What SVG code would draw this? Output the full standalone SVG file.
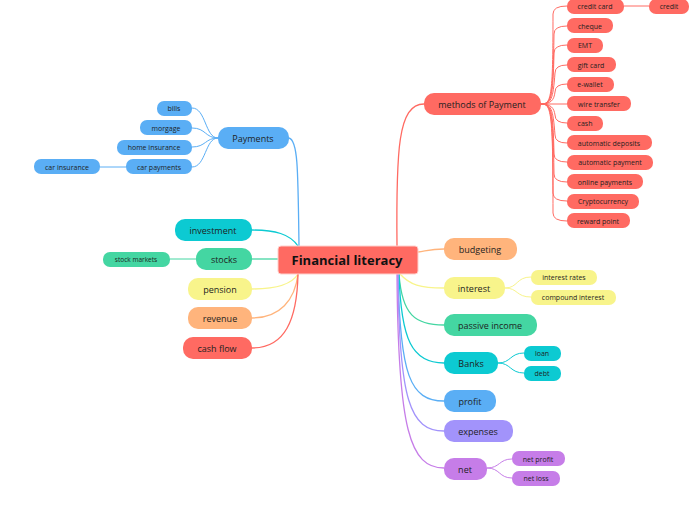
<svg xmlns="http://www.w3.org/2000/svg" width="696" height="520" viewBox="0 0 696 520">
<style>
text{font-family:"Open Sans","Noto Sans","Liberation Sans",sans-serif;fill:#1e1e1e;text-anchor:middle;dominant-baseline:central}
.m{font-size:9px}
.s{font-size:7px}
.c{fill:none;stroke-width:1.3}
.t{fill:none;stroke-width:1}
.red{fill:#ff6a62}.blue{fill:#5aaef5}.cyan{fill:#0ccad2}.green{fill:#44d6a2}.yel{fill:#f8f48b}.org{fill:#ffb47c}.vio{fill:#a293fb}.pur{fill:#c67de8}
.sr{stroke:#ff6a62}.sb{stroke:#5aaef5}.sc{stroke:#0ccad2}.sg{stroke:#44d6a2}.sy{stroke:#f8f48b}.so{stroke:#ffb47c}.sv{stroke:#a293fb}.sp{stroke:#c67de8}
</style>
<rect width="696" height="520" fill="#ffffff"/>
<g id="connectors">
<path class="c sr" d="M397 246 C396 150 398 104 424 104"/>
<path class="c sb" d="M289 138 C298 140 298 170 299 246"/>
<path class="c sc" d="M252 230 C275 230 290 234 298 246"/>
<path class="c sg" d="M252 259 L278 259"/>
<path class="c sy" d="M252 289 C275 289 292 284 298 274"/>
<path class="c so" d="M252 318 C280 318 295 300 298 274"/>
<path class="c sr" d="M252 348 C285 348 297 320 298 274"/>
<path class="c so" d="M418 252 C430 250 432 249 444 249"/>
<path class="c sy" d="M400 274 C410 285 420 288 444 288"/>
<path class="c sg" d="M399 274 C402 315 415 325 444 325"/>
<path class="c sc" d="M399 274 C401 340 412 363 444 363"/>
<path class="c sb" d="M398 274 C400 375 410 401 444 401"/>
<path class="c sv" d="M398 274 C399 400 410 431 444 431"/>
<path class="c sp" d="M397 274 C398 430 410 468 444 468"/>
<g class="t sr">
<path d="M541 104 C551 104 553 100 553 14 Q553 6 567 6"/>
<path d="M541 104 C551 104 553 100 554 34 Q554 26 567 26"/>
<path d="M541 104 C551 104 553 100 554 53 Q554 45 567 45"/>
<path d="M541 104 C551 104 553 100 555 73 Q555 65 567 65"/>
<path d="M541 104 C551 104 554 100 555 92 Q555 84 567 84"/>
<path d="M541 104 L567 104"/>
<path d="M541 104 C551 104 554 108 555 115 Q555 123 567 123"/>
<path d="M541 104 C551 104 553 108 555 135 Q555 143 567 143"/>
<path d="M541 104 C551 104 553 108 554 154 Q554 162 567 162"/>
<path d="M541 104 C551 104 553 108 554 174 Q554 182 567 182"/>
<path d="M541 104 C551 104 553 108 553 193 Q553 201 567 201"/>
<path d="M541 104 C551 104 553 108 553 213 Q553 221 567 221"/>
<path d="M624 6 L649 6"/>
</g>
<g class="t sb">
<path d="M218 138 C205 138 206 108 192 108"/>
<path d="M218 138 C205 138 206 128 192 128"/>
<path d="M218 138 C205 138 206 147 192 147"/>
<path d="M218 138 C205 138 206 167 192 167"/>
<path d="M126 167 L100 167"/>
</g>
<path class="t sg" d="M196 259 L170 259"/>
<g class="t sy">
<path d="M505 288 C518 288 516 277 531 277"/>
<path d="M505 288 C518 288 516 297 531 297"/>
</g>
<g class="t sc">
<path d="M498 363 C511 363 510 353 524 353"/>
<path d="M498 363 C511 363 510 373 524 373"/>
</g>
<g class="t sp">
<path d="M487 468 C500 468 499 459 512 459"/>
<path d="M487 468 C500 468 499 478 512 478"/>
</g>
</g>
<g id="root"><rect x="278" y="246" width="140" height="28" rx="3" class="red" stroke="#ffd0cc" stroke-width="1"/><text x="347" y="260" style="font-size:13px;font-weight:700;fill:#111">Financial literacy</text></g>
<g id="methods"><rect x="424" y="93" width="117" height="22" rx="10" class="red"/><text x="482" y="104" class="m">methods of Payment</text></g>
<g id="creditcard"><rect x="567" y="-1" width="57" height="15" rx="7" class="red"/><text x="595" y="6" class="s">credit card</text></g>
<g id="credit"><rect x="649" y="-1" width="40" height="15" rx="7" class="red"/><text x="669" y="6" class="s">credit</text></g>
<g id="cheque"><rect x="567" y="18" width="46" height="15" rx="7" class="red"/><text x="590" y="26" class="s">cheque</text></g>
<g id="emt"><rect x="567" y="38" width="36" height="15" rx="7" class="red"/><text x="585" y="45" class="s">EMT</text></g>
<g id="giftcard"><rect x="567" y="57" width="49" height="15" rx="7" class="red"/><text x="591" y="65" class="s">gift card</text></g>
<g id="ewallet"><rect x="567" y="77" width="47" height="15" rx="7" class="red"/><text x="590" y="84" class="s">e-wallet</text></g>
<g id="wire"><rect x="567" y="96" width="64" height="15" rx="7" class="red"/><text x="599" y="104" class="s">wire transfer</text></g>
<g id="cash"><rect x="567" y="116" width="36" height="15" rx="7" class="red"/><text x="585" y="123" class="s">cash</text></g>
<g id="autodep"><rect x="567" y="135" width="85" height="15" rx="7" class="red"/><text x="609" y="143" class="s">automatic deposits</text></g>
<g id="autopay"><rect x="567" y="155" width="86" height="15" rx="7" class="red"/><text x="610" y="162" class="s">automatic payment</text></g>
<g id="online"><rect x="567" y="174" width="76" height="15" rx="7" class="red"/><text x="605" y="182" class="s">online payments</text></g>
<g id="crypto"><rect x="567" y="194" width="72" height="15" rx="7" class="red"/><text x="603" y="201" class="s">Cryptocurrency</text></g>
<g id="reward"><rect x="567" y="213" width="63" height="15" rx="7" class="red"/><text x="598" y="221" class="s">reward point</text></g>
<g id="payments"><rect x="218" y="127" width="71" height="22" rx="10" class="blue"/><text x="253" y="138" class="m">Payments</text></g>
<g id="bills"><rect x="157" y="101" width="35" height="15" rx="7" class="blue"/><text x="174" y="108" class="s">bills</text></g>
<g id="morgage"><rect x="140" y="120" width="52" height="15" rx="7" class="blue"/><text x="166" y="128" class="s">morgage</text></g>
<g id="home"><rect x="117" y="140" width="75" height="15" rx="7" class="blue"/><text x="154" y="147" class="s">home insurance</text></g>
<g id="carpay"><rect x="126" y="159" width="66" height="15" rx="7" class="blue"/><text x="159" y="167" class="s">car payments</text></g>
<g id="carins"><rect x="34" y="159" width="66" height="15" rx="7" class="blue"/><text x="67" y="167" class="s">car insurance</text></g>
<g id="investment"><rect x="175" y="219" width="77" height="22" rx="10" class="cyan"/><text x="213" y="230" class="m">investment</text></g>
<g id="stocks"><rect x="196" y="248" width="56" height="22" rx="10" class="green"/><text x="224" y="259" class="m">stocks</text></g>
<g id="stockmarkets"><rect x="103" y="252" width="67" height="15" rx="7" class="green"/><text x="136" y="259" class="s" style="font-size:6.5px">stock markets</text></g>
<g id="pension"><rect x="188" y="278" width="64" height="22" rx="10" class="yel"/><text x="220" y="289" class="m">pension</text></g>
<g id="revenue"><rect x="188" y="307" width="64" height="22" rx="10" class="org"/><text x="220" y="318" class="m">revenue</text></g>
<g id="cashflow"><rect x="183" y="337" width="69" height="22" rx="10" class="red"/><text x="217" y="348" class="m">cash flow</text></g>
<g id="budgeting"><rect x="444" y="238" width="73" height="22" rx="10" class="org"/><text x="480" y="249" class="m">budgeting</text></g>
<g id="interest"><rect x="444" y="277" width="61" height="22" rx="10" class="yel"/><text x="474" y="288" class="m">interest</text></g>
<g id="rates"><rect x="531" y="270" width="66" height="15" rx="7" class="yel"/><text x="564" y="277" class="s">interest rates</text></g>
<g id="compound"><rect x="531" y="290" width="85" height="15" rx="7" class="yel"/><text x="573" y="297" class="s">compound interest</text></g>
<g id="passive"><rect x="444" y="314" width="93" height="22" rx="10" class="green"/><text x="490" y="325" class="m">passive income</text></g>
<g id="banks"><rect x="444" y="352" width="54" height="22" rx="10" class="cyan"/><text x="471" y="363" class="m">Banks</text></g>
<g id="loan"><rect x="524" y="346" width="37" height="15" rx="7" class="cyan"/><text x="542" y="353" class="s">loan</text></g>
<g id="debt"><rect x="524" y="366" width="37" height="15" rx="7" class="cyan"/><text x="542" y="373" class="s">debt</text></g>
<g id="profit"><rect x="444" y="390" width="52" height="22" rx="10" class="blue"/><text x="470" y="401" class="m">profit</text></g>
<g id="expenses"><rect x="444" y="420" width="69" height="22" rx="10" class="vio"/><text x="478" y="431" class="m">expenses</text></g>
<g id="net"><rect x="444" y="458" width="43" height="22" rx="10" class="pur"/><text x="465" y="469" class="m">net</text></g>
<g id="netprofit"><rect x="512" y="451" width="53" height="15" rx="7" class="pur"/><text x="538" y="459" class="s">net profit</text></g>
<g id="netloss"><rect x="512" y="471" width="48" height="15" rx="7" class="pur"/><text x="536" y="478" class="s">net loss</text></g>
</svg>
